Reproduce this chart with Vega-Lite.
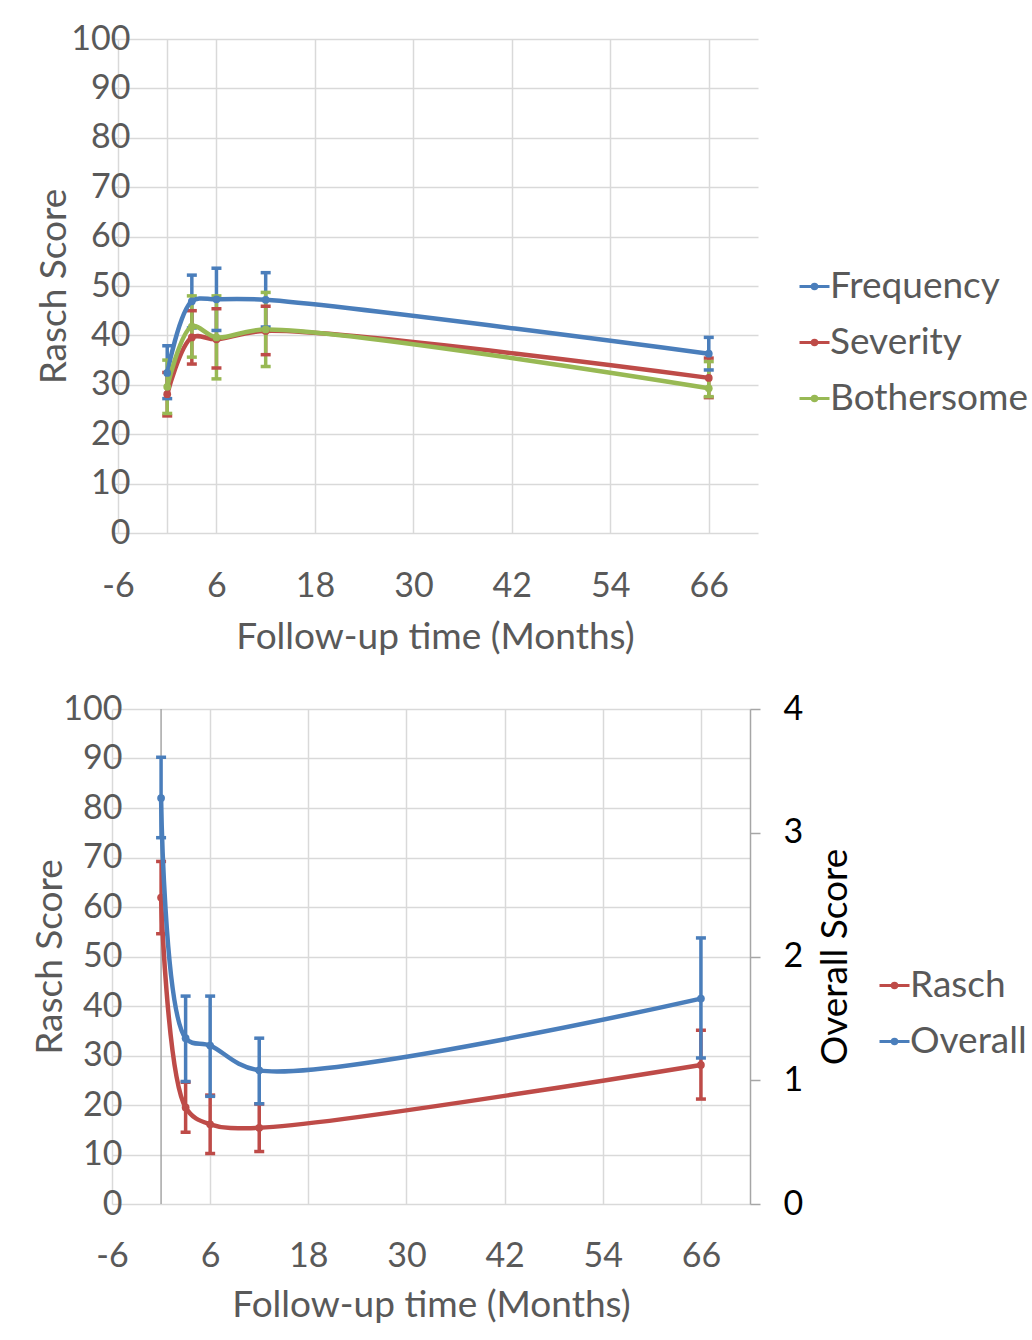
{
  "$schema": "https://vega.github.io/schema/vega-lite/v6.json",
  "background": "white",
  "padding": {"left": 31, "top": 22, "right": 0, "bottom": 0},
  "config": {
    "font": "Lato",
    "view": {"stroke": null},
    "axis": {"labelFontSize": 34, "titleFontSize": 37, "titleFontWeight": "normal", "labelColor": "#595959", "titleColor": "#595959", "gridColor": "#d9d9d9", "gridWidth": 1.5, "domain": false, "ticks": false, "tickSize": 0, "labelFlush": false},
    "legend": {"labelFontSize": 37, "labelColor": "#595959", "orient": "none", "title": null, "symbolSize": 900, "symbolStrokeWidth": 3, "rowPadding": 18, "labelOffset": -3, "labelLimit": 400,
      "symbolType": "M-1,0H1M-0.15,0A0.15,0.15,0,1,1,0.15,0A0.15,0.15,0,1,1,-0.15,0Z"}
  },
  "resolve": {"scale": {"color": "independent"}, "legend": {"color": "independent"}},
  "datasets": {
    "topdata": [
      {"series": "Frequency", "month": 0, "value": 32.4, "lo": 27.2, "hi": 37.9},
      {"series": "Frequency", "month": 3, "value": 46.9, "lo": 41.5, "hi": 52.2},
      {"series": "Frequency", "month": 6, "value": 47.3, "lo": 41.0, "hi": 53.6},
      {"series": "Frequency", "month": 12, "value": 47.2, "lo": 41.7, "hi": 52.7},
      {"series": "Frequency", "month": 66, "value": 36.3, "lo": 33.0, "hi": 39.6},
      {"series": "Severity", "month": 0, "value": 28.1, "lo": 23.7, "hi": 32.5},
      {"series": "Severity", "month": 3, "value": 39.6, "lo": 34.2, "hi": 45.0},
      {"series": "Severity", "month": 6, "value": 39.2, "lo": 33.4, "hi": 45.4},
      {"series": "Severity", "month": 12, "value": 40.9, "lo": 36.1, "hi": 45.9},
      {"series": "Severity", "month": 66, "value": 31.4, "lo": 27.4, "hi": 35.4},
      {"series": "Bothersome", "month": 0, "value": 29.6, "lo": 24.2, "hi": 35.0},
      {"series": "Bothersome", "month": 3, "value": 41.8, "lo": 35.6, "hi": 48.0},
      {"series": "Bothersome", "month": 6, "value": 39.6, "lo": 31.2, "hi": 48.0},
      {"series": "Bothersome", "month": 12, "value": 41.2, "lo": 33.7, "hi": 48.7},
      {"series": "Bothersome", "month": 66, "value": 29.3, "lo": 27.6, "hi": 34.7}
    ],
    "botdata": [
      {"series": "Rasch", "month": 0, "value": 61.9, "lo": 54.6, "hi": 69.2},
      {"series": "Rasch", "month": 3, "value": 19.5, "lo": 14.5, "hi": 24.6},
      {"series": "Rasch", "month": 6, "value": 16.1, "lo": 10.2, "hi": 22.0},
      {"series": "Rasch", "month": 12, "value": 15.4, "lo": 10.6, "hi": 20.2},
      {"series": "Rasch", "month": 66, "value": 28.1, "lo": 21.2, "hi": 35.1},
      {"series": "Overall", "month": 0, "value": 3.28, "lo": 2.96, "hi": 3.61},
      {"series": "Overall", "month": 3, "value": 1.34, "lo": 0.99, "hi": 1.68},
      {"series": "Overall", "month": 6, "value": 1.28, "lo": 0.87, "hi": 1.68},
      {"series": "Overall", "month": 12, "value": 1.08, "lo": 0.81, "hi": 1.34},
      {"series": "Overall", "month": 66, "value": 1.66, "lo": 1.18, "hi": 2.15}
    ]
  },
  "vconcat": [
    {
      "width": 646,
      "height": 494,
      "data": {"name": "topdata"},
      "encoding": {
        "x": {"field": "month", "type": "quantitative", "title": "Follow-up time (Months)",
          "scale": {"domain": [-6.73, 72], "nice": false, "zero": false},
          "axis": {"values": [-6, 0, 6, 18, 30, 42, 54, 66], "labelExpr": "datum.value == 0 ? '' : toString(datum.value)", "grid": true, "labelPadding": 36, "titlePadding": 16}},
        "color": {"field": "series", "type": "nominal",
          "scale": {"domain": ["Frequency", "Severity", "Bothersome"], "range": ["#4A7EBB", "#BE4B48", "#98B954"]},
          "legend": {"legendX": 684, "legendY": 229,
            "encode": {"symbols": {"update": {"stroke": {"scale": "color", "field": "value"}, "fill": {"scale": "color", "field": "value"}}}}}}
      },
      "layer": [
        {"mark": {"type": "rule", "strokeWidth": 3.5},
         "encoding": {"y": {"field": "lo", "type": "quantitative", "title": "Rasch Score", "scale": {"domain": [0, 100], "nice": false},
            "axis": {"values": [0, 10, 20, 30, 40, 50, 60, 70, 80, 90, 100], "grid": true, "labelPadding": -18, "titlePadding": -3}},
           "y2": {"field": "hi"}}},
        {"mark": {"type": "tick", "orient": "horizontal", "size": 10, "thickness": 3.5, "opacity": 1},
         "encoding": {"y": {"field": "lo", "type": "quantitative", "title": "Rasch Score"}}},
        {"mark": {"type": "tick", "orient": "horizontal", "size": 10, "thickness": 3.5, "opacity": 1},
         "encoding": {"y": {"field": "hi", "type": "quantitative", "title": "Rasch Score"}}},
        {"mark": {"type": "line", "interpolate": "catmull-rom", "strokeWidth": 4.5},
         "encoding": {"y": {"field": "value", "type": "quantitative", "title": "Rasch Score"}}},
        {"mark": {"type": "point", "filled": true, "size": 60, "opacity": 1},
         "encoding": {"y": {"field": "value", "type": "quantitative", "title": "Rasch Score"}}}
      ]
    },
    {
      "width": 638,
      "height": 495,
      "encoding": {
        "x": {"field": "month", "type": "quantitative", "title": "Follow-up time (Months)",
          "scale": {"domain": [-6, 72], "nice": false, "zero": false},
          "axis": {"values": [-6, 6, 18, 30, 42, 54, 66], "labelExpr": "toString(datum.value)", "grid": true, "labelPadding": 35, "titlePadding": 14}}
      },
      "layer": [
        {"data": {"values": [{"month": 0}]},
         "mark": {"type": "rule", "color": "#a6a6a6", "strokeWidth": 1.5},
         "encoding": {}},
        {
          "data": {"name": "botdata"},
          "transform": [{"filter": "datum.series == 'Rasch'"}],
          "encoding": {
            "color": {"field": "series", "type": "nominal",
              "scale": {"domain": ["Rasch", "Overall"], "range": ["#BE4B48", "#4A7EBB"]},
              "legend": {"legendX": 764, "legendY": 258,
                "encode": {"symbols": {"update": {"stroke": {"scale": "color", "field": "value"}, "fill": {"scale": "color", "field": "value"}}}}}}
          },
          "layer": [
            {"mark": {"type": "rule", "strokeWidth": 3.5},
             "encoding": {"y": {"field": "lo", "type": "quantitative", "title": "Rasch Score", "scale": {"domain": [0, 100], "nice": false},
                "axis": {"values": [0, 10, 20, 30, 40, 50, 60, 70, 80, 90, 100], "grid": true, "labelPadding": -10, "titlePadding": -7}},
               "y2": {"field": "hi"}}},
            {"mark": {"type": "tick", "orient": "horizontal", "size": 10, "thickness": 3.5, "opacity": 1},
             "encoding": {"y": {"field": "lo", "type": "quantitative", "title": "Rasch Score"}}},
            {"mark": {"type": "tick", "orient": "horizontal", "size": 10, "thickness": 3.5, "opacity": 1},
             "encoding": {"y": {"field": "hi", "type": "quantitative", "title": "Rasch Score"}}},
            {"mark": {"type": "line", "interpolate": "catmull-rom", "strokeWidth": 4.5},
             "encoding": {"y": {"field": "value", "type": "quantitative", "title": "Rasch Score"}}},
            {"mark": {"type": "point", "filled": true, "size": 60, "opacity": 1},
             "encoding": {"y": {"field": "value", "type": "quantitative", "title": "Rasch Score"}}}
          ]
        },
        {
          "data": {"name": "botdata"},
          "transform": [{"filter": "datum.series == 'Overall'"}],
          "encoding": {
            "color": {"field": "series", "type": "nominal"}
          },
          "layer": [
            {"mark": {"type": "rule", "strokeWidth": 3.5},
             "encoding": {"y": {"field": "lo", "type": "quantitative", "title": "Overall Score", "scale": {"domain": [0, 4], "nice": false},
                "axis": {"orient": "right", "values": [0, 1, 2, 3, 4], "format": "d", "grid": false, "domain": true, "domainColor": "#a6a6a6", "domainWidth": 1.5, "ticks": true, "tickSize": 10, "tickColor": "#a6a6a6", "tickWidth": 1.5, "labelPadding": 23, "labelColor": "black", "titleColor": "black", "titleAngle": 270, "titleBaseline": "top", "titlePadding": 15}},
               "y2": {"field": "hi"}}},
            {"mark": {"type": "tick", "orient": "horizontal", "size": 10, "thickness": 3.5, "opacity": 1},
             "encoding": {"y": {"field": "lo", "type": "quantitative", "title": "Overall Score"}}},
            {"mark": {"type": "tick", "orient": "horizontal", "size": 10, "thickness": 3.5, "opacity": 1},
             "encoding": {"y": {"field": "hi", "type": "quantitative", "title": "Overall Score"}}},
            {"mark": {"type": "line", "interpolate": "catmull-rom", "strokeWidth": 4.5},
             "encoding": {"y": {"field": "value", "type": "quantitative", "title": "Overall Score"}}},
            {"mark": {"type": "point", "filled": true, "size": 60, "opacity": 1},
             "encoding": {"y": {"field": "value", "type": "quantitative", "title": "Overall Score"}}}
          ]
        }
      ],
      "resolve": {"scale": {"y": "independent"}}
    }
  ],
  "spacing": 37
}
